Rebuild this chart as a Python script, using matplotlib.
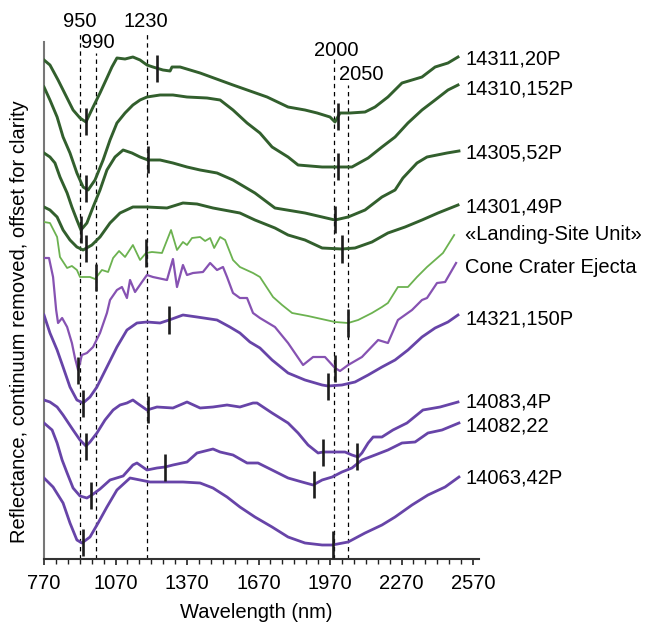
import matplotlib
matplotlib.use("Agg")
import matplotlib.pyplot as plt
import numpy as np

plt.rcParams['font.family'] = ['Liberation Sans', 'DejaVu Sans']

# ---------------- data (wavelength nm, offset reflectance) ----------------
names = ["14311,20P", "14310,152P", "14305,52P", "14301,49P",
         "«Landing-Site Unit»", "Cone Crater Ejecta", "14321,150P",
         "14083,4P", "14082,22", "14063,42P"]

wl_14311 = [770, 795, 829, 850, 871, 892, 921, 946, 976, 1005, 1034, 1055, 1076, 1110, 1143, 1173, 1202, 1227, 1269, 1299, 1307, 1341, 1425, 1563, 1706, 1794, 1865, 1916, 1970, 1991, 2012, 2054, 2117, 2159, 2213, 2272, 2356, 2411, 2465, 2507]
r_14311 = [4.99, 4.94, 4.79, 4.69, 4.59, 4.49, 4.41, 4.37, 4.52, 4.66, 4.81, 4.92, 5.01, 5.00, 5.02, 4.99, 4.94, 4.92, 4.89, 4.88, 4.92, 4.92, 4.86, 4.74, 4.62, 4.52, 4.49, 4.46, 4.42, 4.37, 4.46, 4.46, 4.47, 4.52, 4.62, 4.76, 4.82, 4.92, 4.96, 5.02]

wl_14310 = [770, 795, 825, 850, 879, 908, 934, 955, 984, 1018, 1047, 1076, 1110, 1143, 1173, 1202, 1257, 1311, 1370, 1454, 1509, 1563, 1622, 1676, 1727, 1794, 1836, 1937, 2062, 2130, 2188, 2243, 2297, 2356, 2411, 2465, 2507]
r_14310 = [4.72, 4.59, 4.42, 4.22, 4.06, 3.86, 3.72, 3.69, 3.79, 3.99, 4.19, 4.36, 4.46, 4.54, 4.59, 4.62, 4.64, 4.64, 4.62, 4.61, 4.59, 4.49, 4.36, 4.26, 4.12, 4.02, 3.94, 3.92, 3.92, 4.01, 4.12, 4.22, 4.36, 4.49, 4.59, 4.69, 4.74]

wl_14305 = [770, 795, 816, 837, 867, 887, 908, 925, 950, 976, 1005, 1034, 1068, 1102, 1139, 1173, 1206, 1257, 1311, 1370, 1425, 1496, 1563, 1655, 1739, 1865, 1991, 2046, 2117, 2188, 2243, 2276, 2335, 2377, 2419, 2461, 2511]
r_14305 = [4.06, 4.02, 3.96, 3.82, 3.66, 3.52, 3.39, 3.29, 3.36, 3.52, 3.69, 3.89, 4.02, 4.09, 4.06, 4.02, 3.99, 3.99, 3.96, 3.92, 3.89, 3.86, 3.79, 3.66, 3.51, 3.46, 3.39, 3.42, 3.49, 3.62, 3.69, 3.81, 3.96, 4.02, 4.04, 4.06, 4.08]

wl_14301 = [770, 795, 825, 850, 879, 908, 934, 971, 1005, 1047, 1089, 1143, 1202, 1286, 1353, 1412, 1479, 1592, 1655, 1739, 1794, 1865, 1937, 2020, 2075, 2146, 2213, 2285, 2356, 2423, 2507]
r_14301 = [3.52, 3.49, 3.42, 3.29, 3.19, 3.12, 3.09, 3.14, 3.22, 3.36, 3.46, 3.52, 3.52, 3.51, 3.56, 3.55, 3.51, 3.46, 3.39, 3.31, 3.24, 3.19, 3.11, 3.10, 3.11, 3.17, 3.26, 3.32, 3.39, 3.46, 3.54]

wl_lsu = [770, 795, 825, 837, 867, 887, 908, 921, 963, 984, 1013, 1039, 1060, 1085, 1110, 1143, 1173, 1198, 1223, 1265, 1303, 1328, 1353, 1370, 1391, 1425, 1446, 1467, 1484, 1509, 1530, 1563, 1592, 1647, 1676, 1731, 1769, 1811, 1878, 1991, 2046, 2088, 2146, 2188, 2213, 2255, 2297, 2335, 2377, 2444, 2491]
r_lsu = [3.37, 3.36, 3.22, 3.02, 2.91, 2.93, 2.89, 2.82, 2.82, 2.80, 2.89, 2.87, 3.01, 3.08, 3.02, 3.14, 2.99, 3.06, 3.07, 3.06, 3.29, 3.09, 3.17, 3.14, 3.21, 3.22, 3.18, 3.21, 3.11, 3.22, 3.19, 2.99, 2.92, 2.86, 2.82, 2.62, 2.54, 2.46, 2.43, 2.37, 2.36, 2.39, 2.46, 2.52, 2.56, 2.72, 2.72, 2.82, 2.92, 3.06, 3.24]

wl_cone = [770, 791, 808, 821, 829, 846, 867, 887, 900, 913, 929, 950, 976, 1005, 1034, 1047, 1076, 1097, 1118, 1131, 1152, 1181, 1202, 1227, 1286, 1311, 1328, 1353, 1370, 1395, 1437, 1467, 1496, 1521, 1538, 1563, 1592, 1622, 1647, 1676, 1739, 1794, 1857, 1899, 1949, 1991, 2012, 2046, 2104, 2172, 2213, 2255, 2314, 2356, 2377, 2419, 2453, 2499]
r_cone = [3.01, 3.01, 2.82, 2.49, 2.36, 2.41, 2.32, 2.16, 2.01, 1.89, 2.04, 2.06, 2.12, 2.26, 2.46, 2.59, 2.69, 2.72, 2.61, 2.79, 2.67, 2.77, 2.84, 2.82, 2.79, 3.00, 2.72, 2.94, 2.84, 2.86, 2.87, 2.96, 2.89, 2.92, 2.82, 2.66, 2.61, 2.61, 2.46, 2.41, 2.32, 2.16, 1.94, 2.02, 2.02, 1.91, 1.88, 1.94, 2.02, 2.19, 2.16, 2.39, 2.49, 2.59, 2.61, 2.76, 2.77, 2.96]

wl_14321 = [770, 795, 825, 850, 879, 908, 934, 963, 992, 1034, 1076, 1118, 1160, 1202, 1257, 1295, 1353, 1412, 1496, 1550, 1592, 1634, 1676, 1727, 1794, 1865, 1937, 1962, 2020, 2075, 2130, 2188, 2243, 2297, 2356, 2411, 2465, 2507]
r_14321 = [2.44, 2.26, 2.09, 1.92, 1.72, 1.59, 1.56, 1.62, 1.72, 1.92, 2.12, 2.29, 2.36, 2.37, 2.36, 2.39, 2.44, 2.42, 2.39, 2.32, 2.26, 2.17, 2.11, 1.99, 1.86, 1.79, 1.74, 1.73, 1.74, 1.77, 1.84, 1.92, 1.99, 2.09, 2.22, 2.31, 2.37, 2.44]

wl_14083 = [770, 795, 825, 850, 892, 921, 946, 963, 992, 1026, 1060, 1089, 1118, 1143, 1160, 1202, 1244, 1311, 1370, 1425, 1479, 1538, 1592, 1647, 1664, 1727, 1794, 1836, 1878, 1920, 1941, 1979, 2033, 2062, 2088, 2104, 2130, 2151, 2188, 2234, 2293, 2360, 2432, 2507]
r_14083 = [1.59, 1.57, 1.52, 1.44, 1.29, 1.19, 1.13, 1.17, 1.26, 1.39, 1.49, 1.54, 1.56, 1.59, 1.56, 1.49, 1.52, 1.51, 1.57, 1.51, 1.52, 1.54, 1.52, 1.56, 1.56, 1.46, 1.36, 1.26, 1.14, 1.06, 1.07, 1.07, 1.07, 1.04, 1.02, 1.06, 1.16, 1.22, 1.22, 1.29, 1.36, 1.49, 1.52, 1.57]

wl_14082 = [770, 804, 825, 846, 867, 892, 921, 950, 971, 1005, 1047, 1102, 1143, 1160, 1202, 1244, 1278, 1311, 1370, 1412, 1479, 1509, 1563, 1622, 1668, 1727, 1794, 1853, 1899, 1937, 1979, 2020, 2062, 2104, 2159, 2213, 2272, 2327, 2381, 2440, 2511]
r_14082 = [1.36, 1.29, 1.16, 0.99, 0.86, 0.71, 0.63, 0.61, 0.64, 0.70, 0.79, 0.83, 0.94, 0.96, 0.89, 0.91, 0.92, 0.94, 0.97, 1.06, 1.10, 1.07, 1.04, 0.96, 0.96, 0.89, 0.81, 0.77, 0.74, 0.79, 0.82, 0.87, 0.91, 0.99, 1.04, 1.09, 1.16, 1.17, 1.26, 1.29, 1.36]

wl_14063 = [770, 808, 850, 879, 908, 929, 963, 997, 1034, 1076, 1131, 1173, 1215, 1286, 1353, 1425, 1479, 1538, 1592, 1655, 1727, 1794, 1865, 1937, 1979, 2046, 2117, 2188, 2243, 2314, 2381, 2453, 2511]
r_14063 = [0.81, 0.72, 0.56, 0.36, 0.19, 0.16, 0.22, 0.36, 0.52, 0.69, 0.81, 0.79, 0.77, 0.77, 0.77, 0.76, 0.71, 0.62, 0.52, 0.42, 0.32, 0.22, 0.16, 0.14, 0.14, 0.17, 0.26, 0.34, 0.42, 0.54, 0.64, 0.72, 0.82]

# band-centre markers (nm) for each spectrum
bands = [[946, 1244, 2004], [946, 2004], [925, 1206, 1991], [946, 2020],
         [988, 1198, 2046], [913, 1991], [934, 1295, 1962],
         [946, 1206, 1941, 2083], [967, 1278, 1903], [934, 1983]]

# label vertical positions (same units as reflectance)
label_y = [5.00, 4.70, 4.06, 3.52, 3.24, 2.91, 2.40, 1.57, 1.33, 0.81]

# reference lines
ref_pos = [920, 987, 1201, 1988, 2044]
ref_labels = ["950", "990", "1230", "2000", "2050"]
ref_top = [5.27, 5.06, 5.27, 5.02, 4.74]
ref_label_x = [921, 996, 1197, 1996, 2100]
ref_label_y = [5.37, 5.16, 5.37, 5.09, 4.85]

x_major = [770, 1070, 1370, 1670, 1970, 2270, 2570]

# ---------------- styles ----------------
DG = '#325f2d'
LG = '#6cb250'
CP = '#8652b2'
PP = '#6744a8'
series = [(wl_14311, r_14311, DG, 2.1), (wl_14310, r_14310, DG, 2.1),
          (wl_14305, r_14305, DG, 2.1), (wl_14301, r_14301, DG, 2.1),
          (wl_lsu, r_lsu, LG, 1.3), (wl_cone, r_cone, CP, 1.6),
          (wl_14321, r_14321, PP, 2.0), (wl_14083, r_14083, PP, 2.0),
          (wl_14082, r_14082, PP, 2.0), (wl_14063, r_14063, PP, 2.0)]

FS = 14.5
fig = plt.figure(figsize=(6.46, 6.26), dpi=100)
W, H = 646, 626
x0, x1 = 770, 2595
pxnm = 429 / 1800
ax = fig.add_axes([44 / W, (H - 559) / H, (x1 - x0) * pxnm / W, 517 / H])
ax.set_xlim(x0, x1)
ax.set_ylim(0, 5.17)

for p, top in zip(ref_pos, ref_top):
    ax.plot([p, p], [0, top], color='black', lw=0.9, ls=(0, (3.5, 3)),
            clip_on=False, zorder=1)
for lx, ly, t in zip(ref_label_x, ref_label_y, ref_labels):
    ax.text(lx, ly, t, ha='center', va='center', fontsize=FS, clip_on=False)

for (wl, r, c, lw), name, ly, bl in zip(series, names, label_y, bands):
    ax.plot(wl, r, color=c, lw=lw, zorder=3, solid_joinstyle='round')
    for b in bl:
        yb = np.interp(b, wl, r)
        ax.plot([b, b], [yb - 0.135, yb + 0.135], color='#1c1c1c', lw=1.9,
                zorder=4, solid_capstyle='butt')
    ax.text(2537, ly, name, ha='left', va='center', fontsize=FS, clip_on=False)

ax.spines['top'].set_visible(False)
ax.spines['right'].set_visible(False)
ax.spines['left'].set_color('#777777')
ax.spines['left'].set_linewidth(1.5)
ax.spines['bottom'].set_color('#333333')
ax.spines['bottom'].set_linewidth(1.5)
ax.set_yticks([])
ax.set_xticks(x_major)
ax.set_xticklabels([str(v) for v in x_major], fontsize=FS)
ax.set_xticks(np.arange(770, 2571, 50), minor=True)
ax.tick_params(axis='x', which='major', length=4.5, width=1.2, pad=6, colors='#222222', labelcolor='black')
ax.tick_params(axis='x', which='minor', length=3.5, width=1.0, colors='#222222')

fig.text(256.5 / W, 1 - 613 / H, "Wavelength (nm)", ha='center', va='center', fontsize=FS)
fig.text(20 / W, 1 - 322 / H, "Reflectance, continuum removed, offset for clarity",
         ha='center', va='center', rotation=90, fontsize=FS)

fig.savefig("out.png", dpi=100)
